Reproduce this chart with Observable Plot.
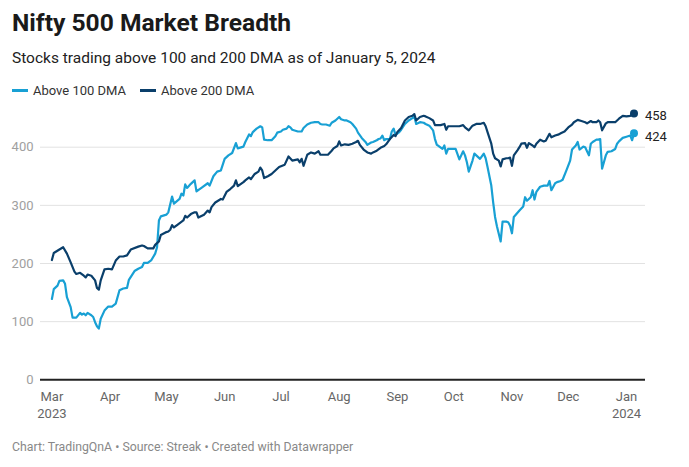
<!DOCTYPE html>
<html>
<head>
<meta charset="utf-8">
<script src="https://cdn.jsdelivr.net/npm/d3@7"></script>
<script src="https://cdn.jsdelivr.net/npm/@observablehq/plot@0.6"></script>
<style>
  html, body { margin: 0; padding: 0; background: #fff; }
  body { width: 689px; height: 467px; position: relative; font-family: Roboto, "Noto Sans", sans-serif; color: #222; overflow: hidden; }
  .title { position: absolute; left: 12px; top: 11px; font-size: 24.6px; line-height: 24.6px; font-weight: 700; color: #1a1a1a; white-space: nowrap; }
  .subtitle { position: absolute; left: 12px; top: 50.5px; font-size: 15.5px; line-height: 15.5px; color: #222; white-space: nowrap; }
  .legend { position: absolute; left: 12px; top: 84px; font-size: 13px; line-height: 13px; color: #333; display: flex; align-items: center; white-space: nowrap; }
  .legend .item { display: flex; align-items: center; margin-right: 14px; }
  .legend .sw { width: 16px; height: 2.5px; margin-right: 5px; }
  #chart { position: absolute; left: 0; top: 100px; }
  .caption { position: absolute; left: 12px; top: 441px; font-size: 12.3px; line-height: 12.3px; color: #888; white-space: nowrap; }
</style>
</head>
<body>
<div class="title">Nifty 500 Market Breadth</div>
<div class="subtitle">Stocks trading above 100 and 200 DMA as of January 5, 2024</div>
<div class="legend" id="legend"></div>
<div id="chart"></div>
<div class="caption">Chart: TradingQnA • Source: Streak • Created with Datawrapper</div>
<script>
const seriesNames = ["Above 100 DMA", "Above 200 DMA"];
const seriesColors = ["#18a0d4", "#0a3f6b"];

const dates100 = [
"2023-03-01","2023-03-02","2023-03-04","2023-03-05","2023-03-07","2023-03-08","2023-03-09","2023-03-11","2023-03-12","2023-03-14",
"2023-03-16","2023-03-17","2023-03-18","2023-03-19","2023-03-20","2023-03-22","2023-03-23","2023-03-24","2023-03-25","2023-03-26",
"2023-03-27","2023-03-29","2023-03-31","2023-04-02","2023-04-04","2023-04-06","2023-04-08","2023-04-10","2023-04-11","2023-04-14",
"2023-04-16","2023-04-18","2023-04-19","2023-04-21","2023-04-23","2023-04-25","2023-04-26","2023-04-27","2023-04-28","2023-05-01",
"2023-05-02","2023-05-04","2023-05-05","2023-05-08","2023-05-09","2023-05-10","2023-05-11","2023-05-12","2023-05-14","2023-05-16",
"2023-05-17","2023-05-20","2023-05-23","2023-05-24","2023-05-26","2023-05-28","2023-05-30","2023-06-01","2023-06-03","2023-06-05",
"2023-06-07","2023-06-08","2023-06-11","2023-06-12","2023-06-14","2023-06-15","2023-06-16","2023-06-18","2023-06-20","2023-06-21",
"2023-06-22","2023-06-24","2023-06-26","2023-06-28","2023-06-29","2023-07-01","2023-07-02","2023-07-04","2023-07-05","2023-07-06",
"2023-07-07","2023-07-10","2023-07-12","2023-07-13","2023-07-15","2023-07-17","2023-07-19","2023-07-21","2023-07-22","2023-07-23",
"2023-07-25","2023-07-27","2023-07-28","2023-07-30","2023-08-01","2023-08-02","2023-08-04","2023-08-05","2023-08-07","2023-08-08",
"2023-08-10","2023-08-11","2023-08-13","2023-08-15","2023-08-16","2023-08-18","2023-08-19","2023-08-21","2023-08-22","2023-08-23",
"2023-08-24","2023-08-25","2023-08-26","2023-08-28","2023-08-29","2023-08-30","2023-08-31","2023-09-02","2023-09-03","2023-09-05",
"2023-09-07","2023-09-09","2023-09-10","2023-09-11","2023-09-13","2023-09-15","2023-09-16","2023-09-18","2023-09-20","2023-09-21",
"2023-09-22","2023-09-23","2023-09-25","2023-09-26","2023-09-27","2023-09-28","2023-09-30","2023-10-02","2023-10-04","2023-10-06",
"2023-10-07","2023-10-08","2023-10-09","2023-10-11","2023-10-12","2023-10-14","2023-10-15","2023-10-17","2023-10-18","2023-10-19",
"2023-10-21","2023-10-22","2023-10-23","2023-10-24","2023-10-26","2023-10-27","2023-10-29","2023-10-30","2023-10-31","2023-11-01",
"2023-11-02","2023-11-05","2023-11-07","2023-11-08","2023-11-09","2023-11-11","2023-11-12","2023-11-13","2023-11-14","2023-11-16",
"2023-11-18","2023-11-20","2023-11-21","2023-11-22","2023-11-24","2023-11-25","2023-11-27","2023-11-28","2023-11-30","2023-12-02",
"2023-12-03","2023-12-05","2023-12-06","2023-12-07","2023-12-09","2023-12-10","2023-12-12","2023-12-13","2023-12-14","2023-12-16",
"2023-12-17","2023-12-18","2023-12-19","2023-12-21","2023-12-22","2023-12-24","2023-12-26","2023-12-27","2023-12-28","2023-12-30",
"2024-01-01","2024-01-03","2024-01-04","2024-01-05"
];
const values100 = [
139,156,162,170,171,165,142,125,107,107,
115,112,114,111,115,111,108,99,92,88,
105,119,126,126,131,154,157,158,172,187,
191,194,201,201,206,217,228,274,281,284,
288,315,303,311,320,317,336,330,337,343,
324,331,338,334,350,358,360,380,386,390,
407,398,401,409,422,419,426,432,436,434,
413,412,412,419,425,427,430,432,436,434,
430,427,427,433,439,442,443,443,440,439,
439,437,442,446,452,448,446,446,443,440,
432,425,416,409,404,408,409,412,414,415,
420,412,414,414,427,432,421,426,430,440,
446,450,453,440,443,442,440,437,429,414,
404,402,397,403,389,397,397,397,379,393,
386,374,358,377,389,383,380,389,381,366,
334,305,280,264,238,272,272,271,265,252,
280,291,298,314,308,314,326,310,323,332,
334,334,342,326,338,340,342,344,360,377,
396,403,409,396,401,400,386,406,409,413,
413,414,363,386,392,393,397,406,410,416,
418,420,412,424
];

const dates200 = [
"2023-03-01","2023-03-02","2023-03-05","2023-03-07","2023-03-09","2023-03-11","2023-03-13","2023-03-14","2023-03-16","2023-03-18",
"2023-03-19","2023-03-20","2023-03-22","2023-03-24","2023-03-25","2023-03-26","2023-03-27","2023-03-29","2023-03-31","2023-04-02",
"2023-04-04","2023-04-06","2023-04-08","2023-04-10","2023-04-12","2023-04-16","2023-04-18","2023-04-19","2023-04-21","2023-04-24",
"2023-04-25","2023-04-27","2023-04-28","2023-05-01","2023-05-02","2023-05-03","2023-05-04","2023-05-05","2023-05-07","2023-05-10",
"2023-05-11","2023-05-12","2023-05-14","2023-05-16","2023-05-17","2023-05-18","2023-05-21","2023-05-23","2023-05-24","2023-05-25",
"2023-05-27","2023-05-30","2023-05-31","2023-06-02","2023-06-04","2023-06-06","2023-06-07","2023-06-08","2023-06-11","2023-06-12",
"2023-06-14","2023-06-15","2023-06-17","2023-06-19","2023-06-20","2023-06-21","2023-06-22","2023-06-24","2023-06-26","2023-06-28",
"2023-06-30","2023-07-03","2023-07-05","2023-07-07","2023-07-10","2023-07-11","2023-07-12","2023-07-13","2023-07-15","2023-07-17",
"2023-07-19","2023-07-21","2023-07-22","2023-07-24","2023-07-26","2023-07-28","2023-07-29","2023-07-31","2023-08-01","2023-08-02",
"2023-08-04","2023-08-06","2023-08-08","2023-08-10","2023-08-11","2023-08-12","2023-08-14","2023-08-16","2023-08-18","2023-08-19",
"2023-08-21","2023-08-23","2023-08-25","2023-08-26","2023-08-28","2023-08-30","2023-08-31","2023-09-01","2023-09-03","2023-09-05",
"2023-09-07","2023-09-09","2023-09-10","2023-09-11","2023-09-13","2023-09-15","2023-09-16","2023-09-18","2023-09-20","2023-09-21",
"2023-09-23","2023-09-24","2023-09-26","2023-09-27","2023-09-28","2023-09-30","2023-10-04","2023-10-06","2023-10-07","2023-10-09",
"2023-10-11","2023-10-13","2023-10-15","2023-10-17","2023-10-18","2023-10-19","2023-10-21","2023-10-22","2023-10-23","2023-10-25",
"2023-10-26","2023-10-27","2023-10-29","2023-10-30","2023-10-31","2023-11-01","2023-11-02","2023-11-04","2023-11-05","2023-11-06",
"2023-11-08","2023-11-09","2023-11-10","2023-11-12","2023-11-13","2023-11-14","2023-11-16","2023-11-18","2023-11-19","2023-11-21",
"2023-11-22","2023-11-24","2023-11-26","2023-11-27","2023-11-29","2023-12-01","2023-12-03","2023-12-04","2023-12-06","2023-12-08",
"2023-12-10","2023-12-11","2023-12-13","2023-12-14","2023-12-16","2023-12-17","2023-12-18","2023-12-19","2023-12-21","2023-12-22",
"2023-12-24","2023-12-26","2023-12-28","2023-12-30","2024-01-01","2024-01-03","2024-01-05"
];
const values200 = [
206,218,224,228,217,202,186,182,184,179,
176,181,179,171,158,155,171,190,191,190,
205,212,212,214,224,229,231,230,226,226,
232,238,249,254,255,258,266,262,267,274,
282,279,285,288,288,279,284,291,288,297,
305,311,310,323,328,334,343,333,340,343,
348,345,354,358,365,360,347,350,354,360,
366,370,384,377,379,374,380,368,387,391,
389,393,387,387,387,394,398,402,410,403,
405,404,406,409,411,404,396,391,389,391,
394,399,402,405,414,421,419,426,433,446,
452,454,457,446,452,454,453,450,446,438,
438,438,440,430,436,436,436,438,434,429,
437,440,440,442,436,426,406,389,381,377,
367,379,381,381,382,368,386,395,400,406,
407,399,407,403,400,406,413,410,411,423,
417,420,422,424,427,434,439,443,447,445,
443,441,445,443,443,446,443,429,441,443,
443,443,449,454,453,454,458
];

const monthTicks = ["2023-03-01","2023-04-01","2023-05-01","2023-06-01","2023-07-01","2023-08-01","2023-09-01","2023-10-01","2023-11-01","2023-12-01","2024-01-01"];
const monthLabels = ["Mar\n2023","Apr","May","Jun","Jul","Aug","Sep","Oct","Nov","Dec","Jan\n2024"];
const yTicks = [0, 100, 200, 300, 400];

const rows100 = dates100.map((d, i) => ({date: new Date(d), value: values100[i]}));
const rows200 = dates200.map((d, i) => ({date: new Date(d), value: values200[i]}));
const months = monthTicks.map((d, i) => ({date: new Date(d), label: monthLabels[i]}));
const last100 = [rows100[rows100.length - 1]];
const last200 = [rows200[rows200.length - 1]];

// legend
const legend = document.getElementById("legend");
seriesNames.forEach((name, i) => {
  const item = document.createElement("div");
  item.className = "item";
  const sw = document.createElement("div");
  sw.className = "sw";
  sw.style.background = seriesColors[i];
  const lab = document.createElement("span");
  lab.textContent = name;
  item.appendChild(sw);
  item.appendChild(lab);
  legend.appendChild(item);
});

const chart = Plot.plot({
  width: 689,
  height: 330,
  marginLeft: 40,
  marginRight: 44,
  marginTop: 46.7,
  marginBottom: 50.7,
  style: {fontFamily: "Roboto, sans-serif", background: "transparent", overflow: "visible"},
  x: {type: "utc", domain: [new Date("2023-03-01"), new Date("2024-01-05")], insetLeft: 11.4, insetRight: 11.5, axis: null},
  y: {domain: [0, 400], axis: null},
  marks: [
    Plot.ruleY(yTicks.filter(d => d > 0), {stroke: "#e2e2e2", strokeWidth: 1}),
    Plot.text(yTicks, {y: d => d, text: d => String(d), frameAnchor: "left", textAnchor: "end", dx: -7, fill: "#a0a0a0", fontSize: 13}),
    Plot.text(months, {x: "date", text: "label", frameAnchor: "bottom", lineAnchor: "top", dy: 9, lineHeight: 1.3, fill: "#666", fontSize: 13}),
    Plot.lineY(rows100, {x: "date", y: "value", stroke: seriesColors[0], strokeWidth: 2.2, strokeLinejoin: "round"}),
    Plot.lineY(rows200, {x: "date", y: "value", stroke: seriesColors[1], strokeWidth: 2.2, strokeLinejoin: "round"}),
    Plot.ruleY([0], {stroke: "#222", strokeWidth: 2}),
    Plot.dot(last200, {x: "date", y: "value", fill: seriesColors[1], r: 4}),
    Plot.dot(last100, {x: "date", y: "value", fill: seriesColors[0], r: 4}),
    Plot.text(last200, {x: "date", y: "value", text: d => String(d.value), textAnchor: "start", dx: 11, dy: 2, fill: "#222", fontSize: 13}),
    Plot.text(last100, {x: "date", y: "value", text: d => String(d.value), textAnchor: "start", dx: 11, dy: 4, fill: "#222", fontSize: 13})
  ]
});
document.getElementById("chart").appendChild(chart);
</script>
</body>
</html>
